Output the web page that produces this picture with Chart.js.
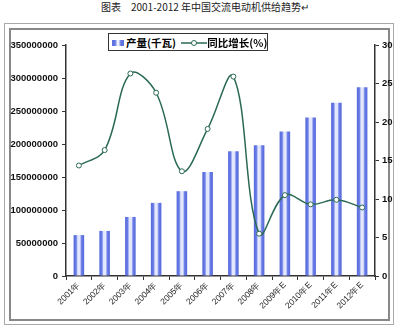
<!DOCTYPE html>
<html>
<head>
<meta charset="utf-8">
<script src="https://cdn.jsdelivr.net/npm/chart.js@4"></script>
<style>
  body { margin: 0; background: #fff; }
  #wrap { position: relative; width: 400px; height: 325px; overflow: hidden; }
  #title { position: absolute; left: 0; top: 0; width: 410px; text-align: center;
    font: 10px "Noto Sans CJK SC", sans-serif; color: #222; line-height: 14px; }
  #frame1 { position: absolute; left: 4px; top: 23px; width: 388px; height: 300px; border: 1px solid #aaa; }
  #frame2 { position: absolute; left: 9px; top: 28px; width: 377px; height: 289px; border: 2px solid #888; }
  #legend { position: absolute; left: 108px; top: 33px; width: 158px; height: 16px; border: 1px solid #333;
    background: #fff; font: bold 10.5px "Noto Sans CJK SC", sans-serif; line-height: 16px; white-space: nowrap; z-index: 2; }
  #legend span { vertical-align: middle; }
  .sw { display: inline-block; width: 12px; height: 6px; margin: 0 2px 0 3px;
    background: linear-gradient(90deg, #6072e0 0 25%, #eef0ff 45% 55%, #6072e0 75% 100%); }
  canvas { position: absolute; left: 0; top: 0; }
</style>
</head>
<body>
<div id="wrap">
  <div id="frame1"></div>
  <div id="frame2"></div>
  <div id="title">图表　2001-2012 年中国交流电动机供给趋势↵</div>
  <div id="legend">
    <span class="sw"></span><span>产量(千瓦)</span>
    <svg width="26" height="8" style="vertical-align: middle; margin-left: 3px"><line x1="0" y1="4" x2="26" y2="4" stroke="#2b6a52" stroke-width="1.5"/><circle cx="13" cy="4" r="2.5" fill="#fff" stroke="#2b6a52"/></svg><span>同比增长(%)</span>
  </div>
  <canvas id="c" width="400" height="325"></canvas>
</div>
<script>
const years = ['2001年', '2002年', '2003年', '2004年', '2005年', '2006年', '2007年', '2008年',
  '2009年E', '2010年E', '2011年E', '2012年E'];
const output = [62000000, 68300000, 89500000, 110800000, 128500000, 157400000, 189200000,
  198000000, 219000000, 240000000, 262500000, 286000000];
const growth = [14.35, 16.35, 26.3, 23.8, 13.6, 19.1, 25.9, 5.5, 10.5, 9.3, 9.9, 8.9];

// blue edges, pale middle
const barFill = (ctx) => {
  const chart = ctx.chart;
  const xs = chart.scales.x;
  if (!xs || ctx.dataIndex === undefined) return '#6072e0';
  const cx = xs.getPixelForValue(ctx.dataIndex);
  if (!isFinite(cx)) return '#6072e0';
  const w = 5.4;
  const g = chart.ctx.createLinearGradient(cx - w, 0, cx + w, 0);
  g.addColorStop(0, '#5468da');
  g.addColorStop(0.25, '#6a7ce6');
  g.addColorStop(0.4, '#e4e8ff');
  g.addColorStop(0.6, '#e4e8ff');
  g.addColorStop(0.75, '#6a7ce6');
  g.addColorStop(1, '#5468da');
  return g;
};

const tickFont = { family: 'Liberation Sans', size: 9.5, weight: 'bold' };

new Chart(document.getElementById('c'), {
  type: 'bar',
  data: {
    labels: years,
    datasets: [{
      type: 'line',
      label: '同比增长(%)',
      data: growth,
      yAxisID: 'y1',
      borderColor: '#2b6a52',
      borderWidth: 1.5,
      tension: 0.38,
      pointRadius: 2.5,
      pointBackgroundColor: '#fff',
      pointBorderColor: '#2b6a52',
      pointBorderWidth: 1,
      order: 0
    }, {
      label: '产量(千瓦)',
      data: output,
      yAxisID: 'y',
      backgroundColor: barFill,
      categoryPercentage: 1,
      barPercentage: 0.41,
      order: 1
    }]
  },
  options: {
    responsive: false,
    animation: false,
    layout: { padding: { top: 45, left: 0, right: 0, bottom: 0 } },
    plugins: { legend: { display: false }, tooltip: { enabled: false } },
    scales: {
      x: {
        afterFit: (s) => { s.height = 49; },
        grid: { drawOnChartArea: false, tickLength: 4, color: '#333', offset: true },
        border: { color: '#333', width: 1.5 },
        ticks: { maxRotation: 45, minRotation: 45, color: '#222', padding: 0,
          font: { family: 'Liberation Sans', size: 8.5 } }
      },
      y: {
        position: 'left',
        min: 0, max: 350000000,
        afterFit: (s) => { s.width = 66; },
        grid: { drawOnChartArea: false, tickLength: 4, color: '#333' },
        border: { color: '#333', width: 1.5 },
        ticks: { stepSize: 50000000, color: '#111', padding: 4, font: tickFont,
          callback: (v) => String(v) }
      },
      y1: {
        position: 'right',
        min: 0, max: 30,
        afterFit: (s) => { s.width = 25; },
        grid: { drawOnChartArea: false, tickLength: 4, color: '#333' },
        border: { color: '#333', width: 1.5 },
        ticks: { stepSize: 5, color: '#111', padding: 3, font: tickFont }
      }
    }
  }
});
</script>
</body>
</html>
